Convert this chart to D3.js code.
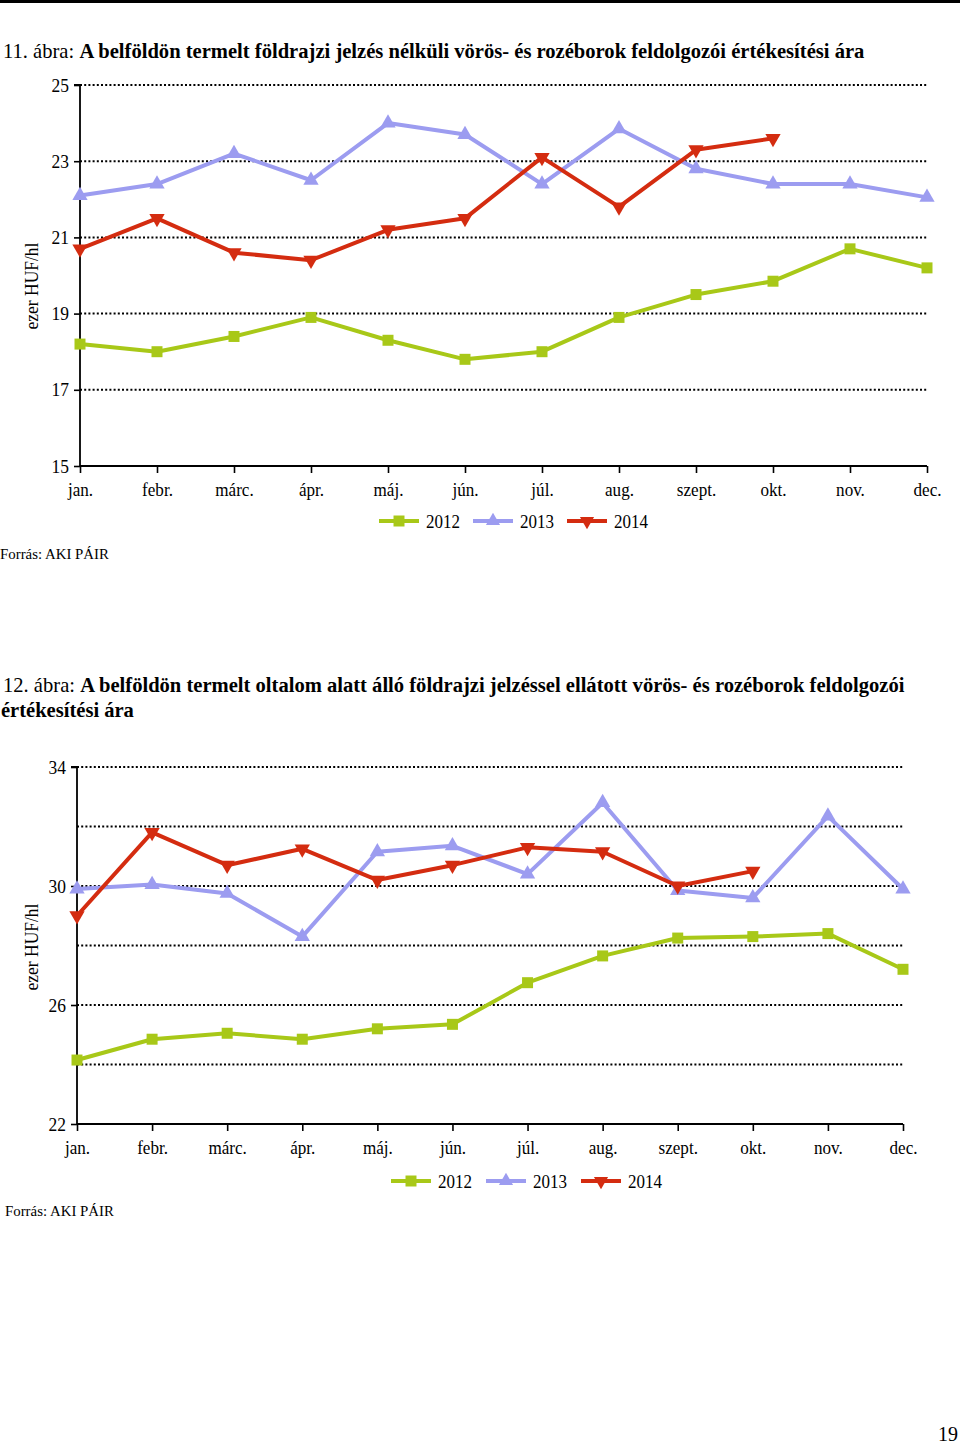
<!DOCTYPE html>
<html>
<head>
<meta charset="utf-8">
<script src="https://cdn.jsdelivr.net/npm/d3@7"></script>
<style>
  body { margin: 0; background: #fff; }
  svg, svg text { font-family: "Liberation Serif", "Times New Roman", "DejaVu Serif", serif; }
</style>
</head>
<body>
<div id="page"></div>
<script>
// months on the x axis
const months = ["jan.", "febr.", "márc.", "ápr.", "máj.", "jún.", "júl.", "aug.", "szept.", "okt.", "nov.", "dec."];
const seriesNames = ["2012", "2013", "2014"];

// 11. ábra – no geographical indication
const c1_2012 = [18.2, 18.0, 18.4, 18.9, 18.3, 17.8, 18.0, 18.9, 19.5, 19.85, 20.7, 20.2];
const c1_2013 = [22.1, 22.4, 23.2, 22.5, 24.0, 23.7, 22.4, 23.85, 22.8, 22.4, 22.4, 22.05];
const c1_2014 = [20.7, 21.5, 20.6, 20.4, 21.2, 21.5, 23.1, 21.8, 23.3, 23.6];
const c1Grid = [15, 17, 19, 21, 23, 25];
const c1Labels = [15, 17, 19, 21, 23, 25];

// 12. ábra – protected geographical indication
const c2_2012 = [24.15, 24.85, 25.05, 24.85, 25.2, 25.35, 26.75, 27.65, 28.25, 28.3, 28.4, 27.2];
const c2_2013 = [29.9, 30.05, 29.75, 28.3, 31.15, 31.35, 30.4, 32.8, 29.85, 29.6, 32.35, 29.9];
const c2_2014 = [29.0, 31.8, 30.7, 31.25, 30.2, 30.7, 31.3, 31.15, 30.0, 30.5];
const c2Grid = [22, 24, 26, 28, 30, 32, 34];
const c2Labels = [22, 26, 30, 34];

const colors = ["#a8c818", "#9c9cf0", "#d42c10"];
const shapes = ["square", "up", "down"];
const serif = '"Liberation Serif", "Times New Roman", serif';

const W = 960, H = 1444;
const svg = d3.select("#page").append("svg")
    .attr("width", W)
    .attr("height", H);
svg.append("rect").attr("width", W).attr("height", H).attr("fill", "#fff");

// thick rule at the very top of the page
svg.append("rect")
    .attr("x", 0).attr("y", 0)
    .attr("width", W).attr("height", 3)
    .attr("fill", "#000");

// squeeze a text element horizontally so it spans exactly `w` pixels
function fitText(t, x, w) {
    const len = t.node().getComputedTextLength();
    t.attr("transform", `translate(${x},0) scale(${w / len},1) translate(${-x},0)`);
}

function titleLine(y, x, w, normal, bold, size) {
    const t = svg.append("text")
        .attr("x", x)
        .attr("y", y)
        .attr("font-size", size)
        .style("font-family", serif)
        .attr("fill", "#000");
    if (normal) t.append("tspan").text(normal);
    t.append("tspan").attr("font-weight", "bold").text(bold);
    fitText(t, x, w);
}

function marker(g, shape, x, y, color, s) {
    let path;
    if (shape === "square") {
        path = d3.symbol(d3.symbolSquare, s * s)();
    } else {
        path = d3.symbol(d3.symbolTriangle, s * s * 0.6)();
    }
    g.append("path")
        .attr("d", path)
        .attr("fill", color)
        .attr("transform", `translate(${x},${y})` + (shape === "down" ? " rotate(180)" : ""));
}

function drawChart(cfg) {
    const x = d3.scalePoint()
        .domain(months)
        .range([cfg.left, cfg.right]);
    const y = d3.scaleLinear()
        .domain(cfg.domain)
        .range([cfg.bottom, cfg.top]);

    const g = svg.append("g");

    // dotted gridlines
    g.append("g")
        .selectAll("line")
        .data(cfg.grid)
        .join("line")
        .attr("x1", cfg.left)
        .attr("x2", cfg.gridEnd)
        .attr("y1", d => y(d))
        .attr("y2", d => y(d))
        .attr("stroke", "#000")
        .attr("stroke-width", 2)
        .attr("stroke-dasharray", "2,2.2");

    // y axis
    const yAxis = g.append("g")
        .attr("transform", `translate(${cfg.left},0)`)
        .call(d3.axisLeft(y).tickValues(cfg.labels).tickSize(6).tickPadding(5).tickFormat(d3.format("d")));
    yAxis.attr("font-family", null);
    yAxis.select(".domain").attr("stroke-width", 1.8).attr("d", `M-6,${y(cfg.domain[1])}H0V${y(cfg.domain[0])}`);
    yAxis.selectAll(".tick line").attr("stroke-width", 1.6);
    yAxis.selectAll("text")
        .style("font-family", serif)
        .attr("font-size", 19)
        .attr("fill", "#000")
        .attr("transform", "scale(0.92,1)")
        .attr("x", -12);

    // x axis
    const xAxis = g.append("g")
        .attr("transform", `translate(0,${cfg.bottom})`)
        .call(d3.axisBottom(x).tickSize(7).tickPadding(10));
    xAxis.attr("font-family", null);
    xAxis.select(".domain").attr("stroke-width", 2).attr("d", `M${cfg.left},0H${cfg.right}`);
    xAxis.selectAll(".tick line").attr("stroke-width", 1.6);
    xAxis.selectAll("text")
        .style("font-family", serif)
        .attr("font-size", 19)
        .attr("fill", "#000")
        .attr("transform", "scale(0.9,1)");

    // y axis title
    svg.append("text")
        .attr("transform", `translate(${cfg.ylabX},${cfg.ylabY}) rotate(-90) scale(0.92,1)`)
        .attr("text-anchor", "middle")
        .attr("font-size", 19)
        .style("font-family", serif)
        .attr("fill", "#000")
        .text("ezer HUF/hl");

    // series lines and markers
    const line = d3.line()
        .x((d, i) => x(months[i]))
        .y(d => y(d));
    cfg.series.forEach((vals, k) => {
        g.append("path")
            .datum(vals)
            .attr("fill", "none")
            .attr("stroke", colors[k])
            .attr("stroke-width", 4)
            .attr("stroke-linejoin", "round")
            .attr("d", line);
        const mg = g.append("g");
        vals.forEach((v, i) => marker(mg, shapes[k], x(months[i]), y(v), colors[k], k === 0 ? 11 : 13));
    });

    // legend
    const lg = svg.append("g");
    cfg.legendX.forEach((lx, k) => {
        lg.append("line")
            .attr("x1", lx).attr("x2", lx + 40)
            .attr("y1", cfg.legendY).attr("y2", cfg.legendY)
            .attr("stroke", colors[k])
            .attr("stroke-width", 4);
        marker(lg, shapes[k], lx + 20, cfg.legendY, colors[k], k === 0 ? 11 : 12);
        const t = lg.append("text")
            .attr("x", lx + 47)
            .attr("y", cfg.legendY + 7)
            .attr("font-size", 19)
            .style("font-family", serif)
            .attr("fill", "#000")
            .text(seriesNames[k]);
        fitText(t, lx + 47, 34);
    });

    // source note
    const s = svg.append("text")
        .attr("x", cfg.srcX)
        .attr("y", cfg.srcY)
        .attr("font-size", 15)
        .style("font-family", serif)
        .attr("fill", "#000")
        .text("Forrás: AKI PÁIR");
    fitText(s, cfg.srcX, 109);
}

// chart 1
titleLine(58, 3, 862, "11. ábra: ", "A belföldön termelt földrajzi jelzés nélküli vörös- és rozéborok feldolgozói értékesítési ára", 21);
drawChart({
    series: [c1_2012, c1_2013, c1_2014],
    domain: [15, 25],
    grid: c1Grid,
    labels: c1Labels,
    left: 80, right: 927, gridEnd: 927,
    top: 85, bottom: 466,
    ylabX: 38, ylabY: 286,
    legendX: [379, 473, 567],
    legendY: 521,
    srcX: 0, srcY: 559
});

// chart 2
titleLine(692, 3, 902, "12. ábra: ", "A belföldön termelt oltalom alatt álló földrajzi jelzéssel ellátott vörös- és rozéborok feldolgozói", 21);
titleLine(717, 1, 133, "", "értékesítési ára", 21);
drawChart({
    series: [c2_2012, c2_2013, c2_2014],
    domain: [22, 34],
    grid: c2Grid,
    labels: c2Labels,
    left: 77, right: 903, gridEnd: 903,
    top: 767, bottom: 1124,
    ylabX: 38, ylabY: 947,
    legendX: [391, 486, 581],
    legendY: 1181,
    srcX: 5, srcY: 1216
});

// page number
svg.append("text")
    .attr("x", 958)
    .attr("y", 1441)
    .attr("text-anchor", "end")
    .attr("font-size", 20)
    .style("font-family", serif)
    .attr("fill", "#000")
    .text("19");
</script>
</body>
</html>
